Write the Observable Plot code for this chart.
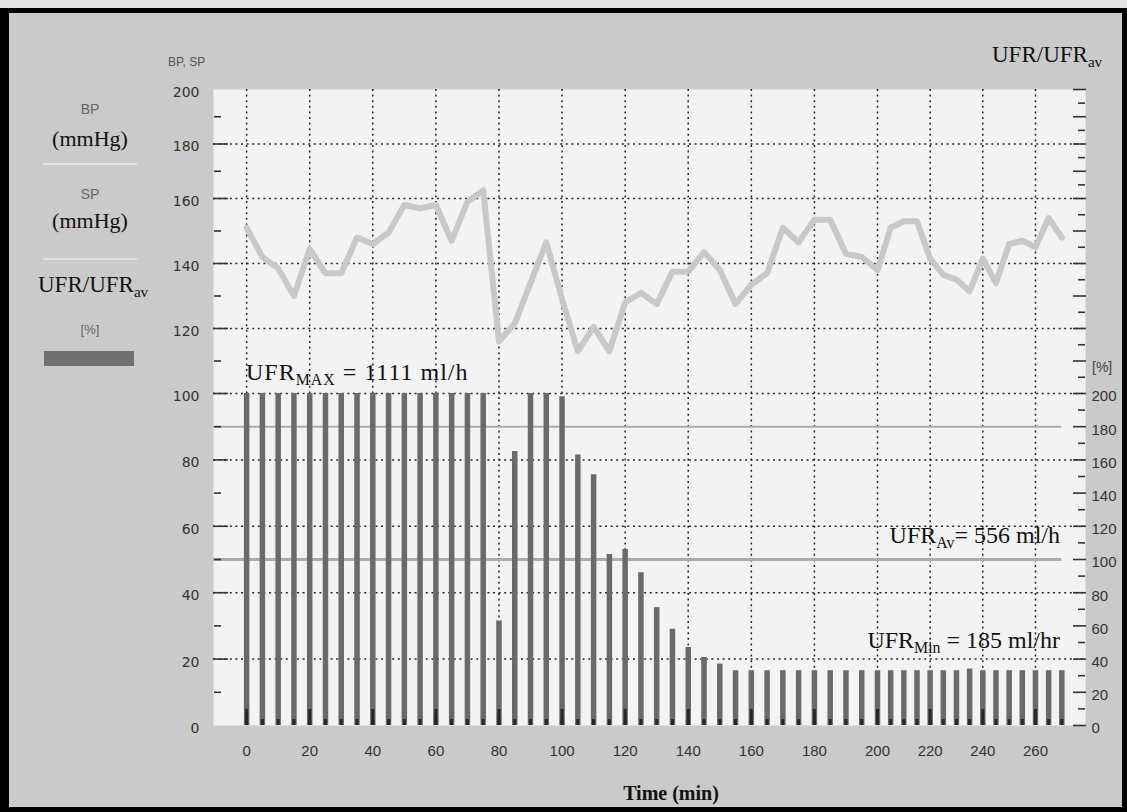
<!DOCTYPE html>
<html>
<head>
<meta charset="utf-8">
<script src="https://cdn.jsdelivr.net/npm/d3@7"></script>
<script src="https://cdn.jsdelivr.net/npm/@observablehq/plot@0.6"></script>
<style>
  html, body { margin: 0; padding: 0; background: #ffffff; }
  #wrap { position: relative; width: 1127px; height: 812px; overflow: hidden; background: #e4e4e4; }
  #frame { position: absolute; left: 0; top: 8px; width: 1127px; height: 804px; box-sizing: border-box;
           border-top: 5px solid #000; border-left: 9px solid #000; border-right: 5px solid #000; border-bottom: 5px solid #000;
           background: #cacaca; }
  #chart { position: absolute; left: 0; top: 0; }
  .t { position: absolute; white-space: nowrap; }
  .serif { font-family: "Liberation Serif", "Times New Roman", serif; color: #111; }
  .sans { font-family: "Liberation Sans", Arial, sans-serif; color: #555; }
  .sub { font-size: 0.66em; vertical-align: -0.32em; line-height: 0; }
  .sep { position: absolute; height: 2px; background: #e2e2e2; }
  .swatch { position: absolute; background: #707070; }
</style>
</head>
<body>
<div id="wrap">
  <div id="frame"></div>
  <div id="chart"></div>
</div>
<script>
// ---- data ----
const times = [0,5,10,15,20,25,30,35,40,45,50,55,60,65,70,75,80,85,90,95,100,105,110,115,120,125,130,135,
               140,145,150,155,160,165,170,175,180,185,190,195,200,205,210,215,220,225,230,235,240,245,250,255,260,265,270];
const bpValues = [151,142,138.5,130,144.5,137,137,148,146,149.5,158,157,158,147,159,163,116,121.5,134,146.5,
                  129,113,120.5,113,128,131,127.5,137.5,137.5,143.5,138,127.5,133.5,137,151,146.5,153.5,153.5,143,142,
                  138,151,153,153,141.5,136.5,135,131.5,141.5,134,146,147,145,154,148];
const ufrPct = [200,200,200,200,200,200,200,200,200,200,200,200,200,200,200,200,
                63,165,200,200,198,163,151,103,106,92,71,58,47,41,37,
                33,33,33,33,33,33,33,33,33,33,33,33,33,33,33,33,34,33,33,33,33,33,33,33];
const refLinesPct = [180, 100];
const refLineEnd = 270;

// ticks and labels
const xGrid = [0,20,40,60,80,100,120,140,160,180,200,220,240,260];
const xLabels = [0,20,40,60,80,100,120,140,160,180,200,220,240,260];
const yGrid = [20,40,60,80,100,120,140,160,180];
const leftLabels = [0,20,40,60,80,100,120,140,160,180,200];
const leftMajor = [20,40,60,80,100,120,140,160,180];
const leftMinor = [10,30,50,70,90,110,130,150,170,190];
const rightLabelsPct = [0,20,40,60,80,100,120,140,160,180,200];
const rightMajorPct = [0,20,40,60,80,100,120,140,160,180,200,220,240,260,280,300,320,340,360,380,400];
const rightMinorPct = [10,30,50,70,90,110,130,150,170,190,210,230,250,270,290,310,330,350,370,390];

const bp = times.map((t, i) => ({t, v: bpValues[i]}));
const ufr = times.map((t, i) => ({t, pct: ufrPct[i]}));
const toLeft = p => p / 2; // 200 % on the right axis = 100 on the left axis

const W = 1127, H = 812;
const chart = Plot.plot({
  width: W, height: H,
  marginLeft: 213, marginRight: 42, marginTop: 89, marginBottom: 87,
  style: {background: "transparent", overflow: "visible"},
  x: {type: "linear", domain: [-10.5, 200, 279], range: [213, 877, 1085]},
  y: {type: "linear", domain: [0, 100, 160, 200], range: [725, 393, 198, 89]},
  marks: [
    Plot.frame({fill: "#f3f3f3", stroke: "none"}),
    Plot.ruleX(xGrid, {stroke: "#262626", strokeWidth: 1.5, strokeDasharray: "2,3.6"}),
    Plot.ruleY(yGrid, {stroke: "#262626", strokeWidth: 1.5, strokeDasharray: "2,3.6"}),
    Plot.ruleY(refLinesPct, {y: toLeft, x1: -10.5, x2: refLineEnd,
      stroke: "#ababab", strokeWidth: d => d === 100 ? 3 : 2}),
    Plot.ruleX(ufr, {x: "t", y1: 0, y2: d => toLeft(d.pct), stroke: "#6a6a6a", strokeWidth: 5.5}),
    Plot.line(bp, {x: "t", y: "v", stroke: "#c8c8c8", strokeWidth: 6, strokeLinejoin: "round", strokeLinecap: "round"}),
    // x ticks (dark marks at the bar bases)
    Plot.axisX(xGrid, {tickSize: 16, dy: -16, fill: "none", stroke: "#262626", strokeWidth: 3, label: null}),
    Plot.axisX(times, {tickSize: 6, dy: -6, fill: "none", stroke: "#262626", strokeWidth: 3, label: null}),
    Plot.axisX(xLabels, {tickSize: 0, tickPadding: 20, fill: "#333", fontSize: 15,
      fontFamily: "Liberation Sans, Arial, sans-serif", label: null}),
    // left axis
    Plot.axisY(leftMajor, {anchor: "left", tickSize: 15, dx: 15, fill: "none", stroke: "#333", strokeWidth: 1.6, label: null}),
    Plot.axisY(leftMinor, {anchor: "left", tickSize: 7, dx: 8, fill: "none", stroke: "#333", strokeWidth: 1.6, label: null}),
    Plot.axisY(leftLabels, {anchor: "left", tickSize: 0, tickPadding: 14, dy: 3, fill: "#333", fontSize: 14,
      fontFamily: "DejaVu Sans, sans-serif", label: null}),
    // right axis (UFR/UFRav in %)
    Plot.axisY(rightMajorPct.map(toLeft), {anchor: "right", tickSize: 13, dx: -13, fill: "none", stroke: "#333", strokeWidth: 1.6, label: null}),
    Plot.axisY(rightMinorPct.map(toLeft), {anchor: "right", tickSize: 7, dx: -8, fill: "none", stroke: "#333", strokeWidth: 1.6, label: null}),
    Plot.axisY(rightLabelsPct.map(toLeft), {anchor: "right", tickSize: 0, tickPadding: 6, dy: 3, fill: "#333", fontSize: 15,
      fontFamily: "Liberation Sans, Arial, sans-serif", tickFormat: d => d * 2, label: null})
  ]
});
document.getElementById("chart").appendChild(chart);

// ---- HTML text (subscripts) ----
const wrap = document.getElementById("wrap");
function label(html, cls, size, baseline, opts) {
  const el = document.createElement("div");
  el.className = "t " + cls;
  el.innerHTML = html;
  el.style.fontSize = size + "px";
  el.style.lineHeight = size + "px";
  el.style.top = (baseline - 0.84 * size) + "px";
  if (opts.left != null) el.style.left = opts.left + "px";
  if (opts.right != null) { el.style.right = (W - opts.right) + "px"; el.style.textAlign = "right"; }
  if (opts.center != null) { el.style.left = (opts.center - 100) + "px"; el.style.width = "200px"; el.style.textAlign = "center"; }
  if (opts.weight) el.style.fontWeight = opts.weight;
  if (opts.color) el.style.color = opts.color;
  if (opts.spacing) el.style.letterSpacing = opts.spacing;
  wrap.appendChild(el);
  return el;
}
// axis titles
label("BP, SP", "sans", 12, 66, {left: 168});
label('UFR/UFR<span class="sub">av</span>', "serif", 23, 62, {left: 992});
label("[%]", "sans", 14, 372, {left: 1092, color: "#444"});
label("Time (min)", "serif", 20, 800, {center: 671, weight: "bold"});
// annotations
label('UFR<span class="sub">MAX</span> = 1111 ml/h', "serif", 24, 380, {left: 246, spacing: "1px"});
label('UFR<span class="sub">Av</span>= 556 ml/h', "serif", 24, 543, {right: 1060});
label('UFR<span class="sub">Min</span> = 185 ml/hr', "serif", 24, 648, {right: 1060});
// left legend
label("BP", "sans", 14, 114, {center: 90, color: "#666"});
label("(mmHg)", "serif", 22, 146, {center: 90});
label("SP", "sans", 14, 199, {center: 90, color: "#666"});
label("(mmHg)", "serif", 22, 228, {center: 90});
label('UFR/UFR<span class="sub">av</span>', "serif", 23, 292, {left: 38});
label("[%]", "sans", 13, 334, {center: 90, color: "#666"});
for (const y of [163, 258]) {
  const s = document.createElement("div");
  s.className = "sep"; s.style.left = "43px"; s.style.width = "94px"; s.style.top = y + "px";
  wrap.appendChild(s);
}
const sw = document.createElement("div");
sw.className = "swatch"; sw.style.left = "44px"; sw.style.top = "351px"; sw.style.width = "90px"; sw.style.height = "15px";
wrap.appendChild(sw);
</script>
</body>
</html>
